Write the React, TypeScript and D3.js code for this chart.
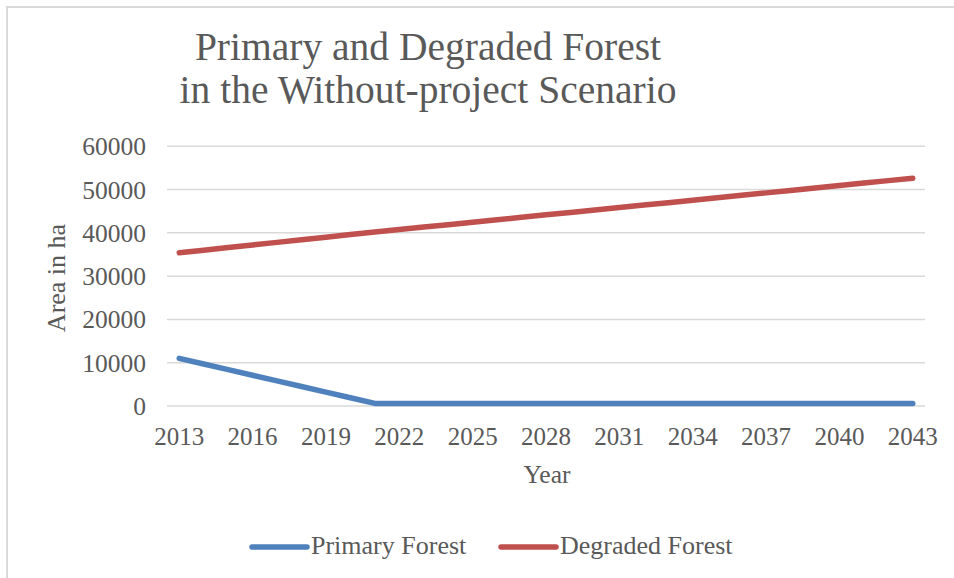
import React from "react";
import * as d3 from "d3";

const years: number[] = [2013,2014,2015,2016,2017,2018,2019,2020,2021,2022,2023,2024,2025,2026,2027,2028,2029,2030,2031,2032,2033,2034,2035,2036,2037,2038,2039,2040,2041,2042,2043];
const primaryForest: number[] = [11000,9700,8400,7100,5800,4500,3200,1900,600,600,600,600,600,600,600,600,600,600,600,600,600,600,600,600,600,600,600,600,600,600,600];
const degradedForest: number[] = [35400,36000,36600,37200,37800,38400,39000,39600,40200,40770,41330,41900,42460,43030,43590,44160,44720,45290,45850,46420,46980,47550,48110,48680,49240,49810,50370,50940,51500,52070,52630];
const yTicks: number[] = [0,10000,20000,30000,40000,50000,60000];
const xTickYears: number[] = [2013,2016,2019,2022,2025,2028,2031,2034,2037,2040,2043];
const titleLines: string[] = ["Primary and Degraded Forest", "in the Without-project Scenario"];
const seriesNames: string[] = ["Primary Forest", "Degraded Forest"];

const W = 954, H = 578;
const FONT = "'Liberation Serif', 'Times New Roman', serif";
const TXT = "#595959";
const BLUE = "#4F81BD";
const RED = "#C0504D";
const GRID = "#D9D9D9";

export default function App() {
  const x = d3.scaleBand<number>().domain(years).range([167, 925]);
  const xc = (yr: number) => (x(yr) as number) + x.bandwidth() / 2;
  const y = d3.scaleLinear().domain([0, 60000]).range([406, 146.3]);
  const line = d3.line<number>().x((_, i) => xc(years[i])).y((v) => y(v));

  const series = [
    { name: seriesNames[0], values: primaryForest, color: BLUE },
    { name: seriesNames[1], values: degradedForest, color: RED },
  ];
  const legendX = [252, 501];

  return (
    <svg width={W} height={H} style={{ position: "absolute", left: 0, top: 0, background: "#fff" }} fontFamily={FONT}>
      <rect x={0} y={0} width={W} height={H} fill="#fff" />
      <rect x={7} y={7} width={W + 20} height={H + 20} fill="none" stroke={GRID} strokeWidth={2} />
      {titleLines.map((t, i) => (
        <text key={i} x={428} y={60 + i * 43} textAnchor="middle" fontSize={39.5} fill={TXT}>{t}</text>
      ))}
      {yTicks.map((t) => (
        <g key={t}>
          <line x1={167} x2={925} y1={y(t)} y2={y(t)} stroke={GRID} strokeWidth={1.5} />
          <text x={146} y={y(t)} dy="0.35em" textAnchor="end" fontSize={25.5} fill={TXT}>{t}</text>
        </g>
      ))}
      {xTickYears.map((yr) => (
        <text key={yr} x={xc(yr)} y={445} textAnchor="middle" fontSize={25} fill={TXT}>{yr}</text>
      ))}
      <text x={547} y={483} textAnchor="middle" fontSize={25.5} fill={TXT}>Year</text>
      <text transform={`translate(65,278) rotate(-90)`} textAnchor="middle" fontSize={26} fill={TXT}>Area in ha</text>
      {series.map((s) => (
        <path key={s.name} d={line(s.values) as string} fill="none" stroke={s.color} strokeWidth={5.5} strokeLinecap="round" strokeLinejoin="round" />
      ))}
      {series.map((s, i) => (
        <g key={s.name}>
          <line x1={legendX[i]} x2={legendX[i] + 55} y1={547} y2={547} stroke={s.color} strokeWidth={5.5} strokeLinecap="round" />
          <text x={legendX[i] + 59} y={554} fontSize={26} fill={TXT}>{s.name}</text>
        </g>
      ))}
    </svg>
  );
}
